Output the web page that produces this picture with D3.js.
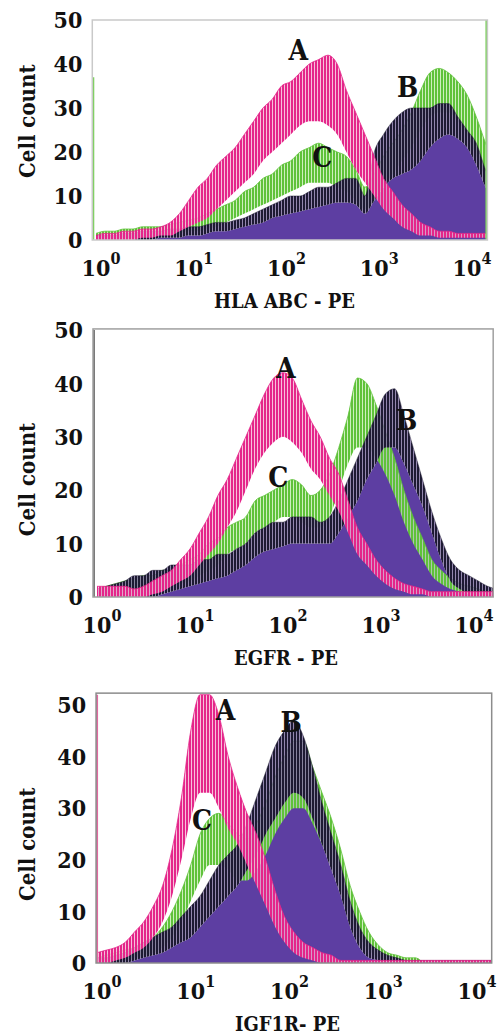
<!DOCTYPE html>
<html>
<head>
<meta charset="utf-8">
<script src="https://cdn.jsdelivr.net/npm/d3@7"></script>
<style>
body { margin: 0; background: #fff; }
svg text { font-family: "DejaVu Serif", serif; font-stretch: condensed; font-weight: bold; fill: #111; }
</style>
</head>
<body>
<svg id="chart" width="502" height="1036"></svg>
<script>
// histogram bins, as log10 of the fluorescence channel
var bins = [0.0,0.1,0.2,0.3,0.4,0.5,0.6,0.7,0.8,0.9,
            1.0,1.1,1.2,1.3,1.4,1.5,1.6,1.7,1.8,1.9,
            2.0,2.1,2.2,2.3,2.4,2.5,2.6,2.7,2.8,2.9,
            3.0,3.1,3.2,3.3,3.4,3.5,3.6,3.7,3.8,3.9,
            4.0,4.1,4.2,4.3];
var yTicks = [0, 10, 20, 30, 40, 50];
var xTickExps = [0, 1, 2, 3, 4];
var curveNames = ["A", "B", "C"];

// HLA ABC - PE : lower / upper level of the noisy histogram traces
var hlaA_lo = [0,0,0,0,0,0.5,0.5,1,1,2, 3,4,5,7,9,11,13,15,18,20, 22,24,26,27,27,26,24,20,16,13, 10,7,5,3,2,1,1,0.5,0.5,0.5, 0.5,0.5,0.5,0.5];
var hlaA_hi = [1,1.5,1.5,2,2,2.5,2.5,3,4,6, 9,12,14,17,19,21,24,27,30,32, 35,36,38,40,41,42,40,34,29,24, 19,14,11,8,6,4,3,2,2,1.5, 1.5,1.5,1.5,1.5];
var hlaB_lo = [0,0,0,0,0,0,0,0.5,0.5,0.5, 1,1,1.5,2,2,2.5,3,3.5,4,5, 5.5,6,6.5,7,7.5,8,8.5,8.5,8,6, 9,12,14,15,16,18,21,23,24,23, 21,17,12,8];
var hlaB_hi = [1,1,1,1.5,1.5,2,2,2,2.5,2.5, 3,3,3.5,4,4,4.5,5,6,7,8, 9,10,10,11,12,12,13,14,14,10, 20,24,27,29,30,30,30,31,31,28, 25,22,16,12];
var hlaC_lo = [0,0,0.5,0.5,0.5,0.5,1,1,1,1.5, 2,2,2.5,3,4,5,6,7,8,9, 10,11,12,13,13,13,12,11,9,7, 9,12,15,18,21,25,28,29,29,27, 24,19,14,10];
var hlaC_hi = [1.5,2,2,2.5,2.5,3,3,3,3.5,4, 4.5,5,6,7,8,9,11,12,14,15, 17,18,20,21,22,21,20,19,16,12, 15,19,22,25,29,34,38,39,38,36, 33,28,22,17];
var hlaFirst = [0, 0, 37];   // first-channel spike (A, B, C)
var hlaLast = [0, 0, 50];    // last-channel spike (A, B, C)

// EGFR - PE
var egfrA_lo = [0,0,0,0,0,0,0.5,1,2,3, 4,6,8,10,13,16,20,24,27,29, 30,29,27,24,22,19,16,12,8,6, 4,2.5,1.5,1,0.5,0.5,0,0,0,0, 0,0,0,0];
var egfrA_hi = [2,2,2,2,1.5,2,3,4,5,7, 9,12,15,19,22,26,30,34,38,41, 42,41,37,33,30,26,23,18,13,10, 7,5,3.5,2.5,2,1.5,1,1,1,1, 1,1,1,1];
var egfrB_lo = [0,0,0,0,0,0,0,0.5,1,1.5, 2,2.5,3,3.5,4,5,6,7.5,8.5,9, 9.5,10,10,10,10,10,12,15,18,22, 25,28,28,25,21,17,12,7,3,1.5, 0.5,0,0,0];
var egfrB_hi = [1.5,2,2.5,3,4,4,5,5,6,6, 6,7,7,8,8,9,10,12,13,14, 14,15,15,15,14,15,18,22,26,30, 34,38,39,34,28,22,16,11,7,5, 4,3,2,1.5];
var egfrC_lo = [0,0.5,0.5,1,1,1,1.5,1.5,2,2.5, 3,4,5,6,8,9,10,12,13,14, 15,15,14,13,13,15,20,25,28,28, 26,23,19,14,10,7,4,2.5,1.5,1, 0.5,0,0,0];
var egfrC_hi = [1.5,2,2.5,3,3.5,4,4,5,5,6, 7,8,10,11,13,14,15,18,19,20, 21,22,21,19,20,23,28,34,41,40, 36,31,26,20,15,11,7,5,3.5,2.5, 2,1.5,1,1];
var egfrFirst = [30, 50, 0];
var egfrLast = [0, 0, 0];

// IGF1R- PE
var igfA_lo = [0,0,0.5,1,2,3,5,8,13,20, 28,33,33,30,26,23,19,15,11,7, 4,2,1,0.5,0,0,0,0,0,0, 0,0,0,0,0,0,0,0,0,0, 0,0,0,0];
var igfA_hi = [2,2.5,3,4,6,8,11,15,22,32, 45,52,52,48,40,34,29,25,20,14, 9,6,4,3,2,1.5,0.5,0.5,0.5,0.5, 0.5,0.5,0.5,0.5,0.5,0.5,0.5,0.5,0.5,0.5, 0.5,0.5,0.5,0.5];
var igfB_lo = [0,0,0,0,0.5,1,1.5,2,3,4, 5,7,9,11,13,15,18,21,25,28, 31,33,32,28,23,18,13,7,3,1, 0.5,0,0,0,0,0,0,0,0,0, 0,0,0,0];
var igfB_hi = [1,1,1.5,2,3,4,5,6,7,9, 11,13,16,19,21,23,27,32,37,42, 45,47,44,38,31,25,19,12,7,4, 2.5,1.5,1,0.5,0.5,0.5,0.5,0.5,0.5,0.5, 0.5,0.5,0.5,0.5];
var igfC_lo = [0,0,0,0.5,1,1.5,2,3,5,8, 12,16,19,19,18,16,16,18,21,25, 28,30,30,27,23,19,14,9,5,2.5, 1,0.5,0,0,0,0,0,0,0,0, 0,0,0,0];
var igfC_hi = [1,1.5,2,2.5,3,4,5,7,10,14, 19,25,28,29,27,25,24,27,31,36, 40,43,43,38,33,28,22,15,10,6, 3.5,2,1.5,1,1,0,0,0,0,0, 0,0,0,0];
var igfFirst = [52, 0, 0];
var igfLast = [0, 0, 0];

// curve letters: [log10 position, count at text baseline]
var hlaLetters = [[2.18, 40.9], [3.36, 32.5], [2.44, 16.6]];
var egfrLetters = [[2.03, 41], [3.33, 31.3], [1.95, 20.6]];
var igfLetters = [[1.37, 47.1], [2.07, 44.8], [1.12, 25.8]];

var colors = { A: "#e4268a", B: "#5d3ea2", Bdark: "#1e1a33", C: "#5fc23a" };
var edgeColors = { A: "#e06aa0", B: "#7a7a7a", C: "#7fd060" };

var panels = [
	{ title: "HLA ABC - PE", xr: [96, 467], yr: [240, 20], box: [-0.04, 4.22, 50], border: "#c9c9c9", titleAt: 27,
	  A: [hlaA_lo, hlaA_hi], B: [hlaB_lo, hlaB_hi], C: [hlaC_lo, hlaC_hi], first: hlaFirst, last: hlaLast, letters: hlaLetters },
	{ title: "EGFR - PE", xr: [97, 469], yr: [597, 330], box: [-0.043, 4.26, 50.2], border: "#a0a0a0", titleAt: 22,
	  A: [egfrA_lo, egfrA_hi], B: [egfrB_lo, egfrB_hi], C: [egfrC_lo, egfrC_hi], first: egfrFirst, last: egfrLast, letters: egfrLetters },
	{ title: "IGF1R- PE", xr: [97, 472], yr: [963, 705], box: [-0.01, 4.21, 52.3], border: "#8c8c8c", titleAt: 23,
	  A: [igfA_lo, igfA_hi], B: [igfB_lo, igfB_hi], C: [igfC_lo, igfC_hi], first: igfFirst, last: igfLast, letters: igfLetters }
];

var svg = d3.select("#chart");
var defs = svg.append("defs");

// thin vertical strands, to look like the dense channel spikes
function stripes(id, stripe, gap, gapOpacity){
	var p = defs.append("pattern")
		.attr("id", id)
		.attr("patternUnits", "userSpaceOnUse")
		.attr("width", 3)
		.attr("height", 10);
	p.append("rect").attr("width", 3).attr("height", 10).attr("fill", gap).attr("fill-opacity", gapOpacity);
	p.append("rect").attr("width", 2).attr("height", 10).attr("fill", stripe);
}
stripes("stA", colors.A, "#f6b0d2", 0.8);
stripes("stB", colors.Bdark, "#6e5f92", 0.75);
stripes("stC", colors.C, "#c2ebae", 0.8);

function drawPanel(p, k){
	var g = svg.append("g");
	var x = d3.scaleLog().domain([1, 1e4]).range(p.xr);
	var y = d3.scaleLinear().domain([0, 50]).range(p.yr);
	var xe = function(e){ return x(Math.pow(10, e)); };

	var left = xe(p.box[0]), right = xe(p.box[1]);
	var top = y(p.box[2]), bottom = y(0);

	defs.append("clipPath").attr("id", "clip" + k)
		.append("rect")
		.attr("x", left).attr("y", top)
		.attr("width", right - left).attr("height", bottom - top);

	var plot = g.append("g").attr("clip-path", "url(#clip" + k + ")");

	function band(lo, hi){
		return d3.area()
			.x(function(d, i){ return xe(bins[i]); })
			.y0(function(d, i){ return y(lo[i]); })
			.y1(function(d, i){ return y(hi[i]); })
			.curve(d3.curveMonotoneX)(bins);
	}
	function edge(vals){
		return d3.line()
			.x(function(d, i){ return xe(bins[i]); })
			.y(function(d, i){ return y(vals[i]); })
			.curve(d3.curveMonotoneX)(bins);
	}
	var zeros = bins.map(function(){ return 0; });

	// B: solid purple body
	plot.append("path").attr("d", band(zeros, p.B[0])).attr("fill", colors.B);
	// C: green trace
	plot.append("path").attr("d", band(p.C[0], p.C[1])).attr("fill", "url(#stC)");
	plot.append("path").attr("d", edge(p.C[1])).attr("fill", "none").attr("stroke", colors.C).attr("stroke-width", 0.8);
	// B: dark spikes on top of the body
	plot.append("path").attr("d", band(p.B[0], p.B[1])).attr("fill", "url(#stB)");
	plot.append("path").attr("d", edge(p.B[1])).attr("fill", "none").attr("stroke", colors.Bdark).attr("stroke-width", 0.7).attr("stroke-opacity", 0.7);
	// A: pink trace
	plot.append("path").attr("d", band(p.A[0], p.A[1])).attr("fill", "url(#stA)");
	plot.append("path").attr("d", edge(p.A[1])).attr("fill", "none").attr("stroke", colors.A).attr("stroke-width", 0.8);

	// first / last channel spikes on the box edges
	curveNames.forEach(function(c, i){
		if (p.first[i] > 0){
			plot.append("line")
				.attr("x1", left + 1).attr("x2", left + 1)
				.attr("y1", y(0)).attr("y2", y(p.first[i]))
				.attr("stroke", edgeColors[c]).attr("stroke-width", 2);
		}
		if (p.last[i] > 0){
			plot.append("line")
				.attr("x1", right - 1).attr("x2", right - 1)
				.attr("y1", y(0)).attr("y2", y(p.last[i]))
				.attr("stroke", edgeColors[c]).attr("stroke-width", 2);
		}
	});

	// frame
	g.append("rect")
		.attr("x", left).attr("y", top)
		.attr("width", right - left).attr("height", bottom - top)
		.attr("fill", "none")
		.attr("stroke", p.border)
		.attr("stroke-width", 1.5);

	// y tick labels
	g.selectAll("text.ytick")
		.data(yTicks)
		.enter().append("text")
			.attr("class", "ytick")
			.attr("x", left - 10)
			.attr("y", function(d){ return y(d); })
			.attr("dy", "0.36em")
			.attr("text-anchor", "end")
			.style("font-size", "23px")
			.text(function(d){ return d; });

	// x tick labels as powers of ten
	g.selectAll("text.xtick")
		.data(xTickExps)
		.enter().append("text")
			.attr("class", "xtick")
			.attr("y", bottom + 36)
			.style("font-size", "23px")
			.each(function(e){
				var t = d3.select(this);
				t.append("tspan").text("10");
				t.append("tspan").attr("dy", -12).style("font-size", "16px").text(e);
				var baseW = this.getSubStringLength(0, 2);
				t.attr("x", xe(e) - baseW / 2);
			});

	// axis titles
	g.append("text")
		.attr("x", x(100) + 3)
		.attr("y", bottom + 68)
		.attr("text-anchor", "middle")
		.style("font-size", "20px")
		.text(p.title);

	g.append("text")
		.attr("transform", "translate(27," + y(p.titleAt) + ") rotate(-90)")
		.attr("text-anchor", "middle")
		.attr("dy", "0.36em")
		.style("font-size", "22px")
		.text("Cell count");

	// curve letters
	g.selectAll("text.letter")
		.data(p.letters)
		.enter().append("text")
			.attr("class", "letter")
			.attr("x", function(d){ return xe(d[0]); })
			.attr("y", function(d){ return y(d[1]); })
			.attr("text-anchor", "middle")
			.style("font-size", "28px")
			.text(function(d, i){ return curveNames[i]; });
}

panels.forEach(drawPanel);
</script>
</body>
</html>
